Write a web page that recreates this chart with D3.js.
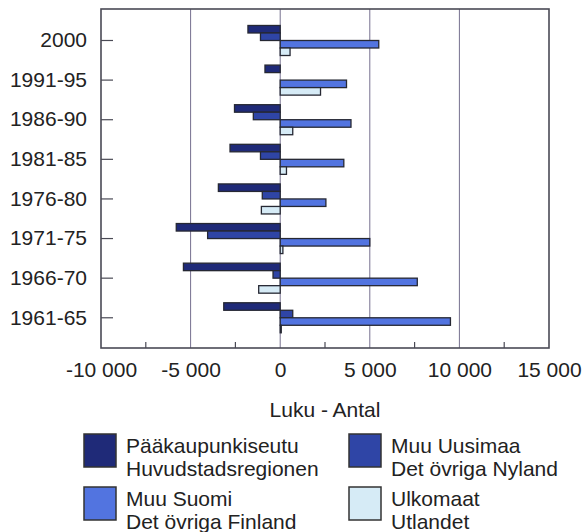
<!DOCTYPE html>
<html><head><meta charset="utf-8">
<script src="https://cdn.jsdelivr.net/npm/d3@7"></script>
<style>
html,body{margin:0;padding:0;background:#fff;}
text{font-family:"Liberation Sans",Arial,sans-serif;fill:#222;}
</style></head>
<body>
<svg id="c" width="585" height="532"></svg>
<script>
const categories = ["2000","1991-95","1986-90","1981-85","1976-80","1971-75","1966-70","1961-65"];
const seriesNames = ["Pääkaupunkiseutu","Muu Uusimaa","Muu Suomi","Ulkomaat"];
const seriesLabels2 = ["Huvudstadsregionen","Det övriga Nyland","Det övriga Finland","Utlandet"];
const paakaupunkiseutu = [-1800, -850, -2550, -2800, -3450, -5800, -5400, -3150];
const muuUusimaa      = [-1100, 0, -1500, -1100, -1000, -4050, -400, 700];
const muuSuomi        = [5500, 3700, 3950, 3550, 2550, 5000, 7650, 9500];
const ulkomaat        = [550, 2250, 700, 350, -1050, 150, -1200, 60];
const xTicks = [-10000, -5000, 0, 5000, 10000, 15000];
const xMinorTicks = [-7500, -2500, 2500, 7500, 12500];
const colors = ["#1f2a78", "#2f45a6", "#5274e0", "#d6ebf6"];

const seriesValues = [paakaupunkiseutu, muuUusimaa, muuSuomi, ulkomaat];

const svg = d3.select("#c");
const L = 101, R = 549, T = 9, B = 348;
const FS = 21;

const x = d3.scaleLinear().domain([-10000, 15000]).range([L, R]);
const y = d3.scaleBand().domain(categories).range([T, B]).paddingInner(0.242).paddingOuter(0.4).align(0.52);
const y1 = d3.scaleBand().domain(seriesNames).range([0, y.bandwidth()]);

const fmt = v => d3.format(",")(v).replace(/,/g, " ").replace(/\u2212/g, "-");

// gridlines
svg.append("g").selectAll("line").data(xTicks.slice(1, -1)).join("line")
  .attr("x1", d => x(d)).attr("x2", d => x(d)).attr("y1", T).attr("y2", B)
  .attr("stroke", "#76708f").attr("stroke-width", 1);

// bars
const groups = svg.append("g").selectAll("g").data(categories).join("g")
  .attr("transform", d => `translate(0,${y(d)})`);
groups.selectAll("rect").data((c, i) => seriesNames.map((s, j) => ({s, j, v: seriesValues[j][i]})))
  .join("rect")
  .filter(d => d.v !== 0)
  .attr("x", d => x(Math.min(0, d.v)))
  .attr("width", d => Math.abs(x(d.v) - x(0)))
  .attr("y", d => y1(d.s))
  .attr("height", y1.bandwidth())
  .attr("fill", d => colors[d.j])
  .attr("stroke", "#262833").attr("stroke-width", 1.3);

// frame
svg.append("rect").attr("x", L).attr("y", T).attr("width", R - L).attr("height", B - T)
  .attr("fill", "none").attr("stroke", "#4a4a55").attr("stroke-width", 1.6);

// bottom axis
const xAxis = d3.axisBottom(x).tickValues(xTicks).tickFormat(fmt).tickSize(0).tickPadding(14);
const gx = svg.append("g").attr("transform", `translate(0,${B})`).call(xAxis);
gx.select(".domain").remove();
gx.selectAll("text").attr("font-size", FS).attr("font-family", "Liberation Sans, Arial, sans-serif").attr("fill", "#222");
svg.append("g").selectAll("line").data(xMinorTicks).join("line")
  .attr("x1", d => x(d)).attr("x2", d => x(d)).attr("y1", B).attr("y2", B - 6)
  .attr("stroke", "#4a4a55").attr("stroke-width", 1.2);

// left axis
const yAxis = d3.axisLeft(y).tickSize(0).tickPadding(14);
const gy = svg.append("g").attr("transform", `translate(${L},0)`).call(yAxis);
gy.select(".domain").remove();
gy.selectAll("text").attr("font-size", FS).attr("font-family", "Liberation Sans, Arial, sans-serif").attr("fill", "#222");
svg.append("g").selectAll("line").data(categories).join("line")
  .attr("x1", L).attr("x2", L + 12)
  .attr("y1", d => y(d) + y.bandwidth() / 2).attr("y2", d => y(d) + y.bandwidth() / 2)
  .attr("stroke", "#4a4a55").attr("stroke-width", 1.2);

// x axis title
svg.append("text").attr("x", (L + R) / 2).attr("y", 417).attr("text-anchor", "middle")
  .attr("font-size", FS).text("Luku - Antal");

// legend
const legPos = [[84, 434], [349, 434], [84, 487], [349, 487]];
seriesNames.forEach((s, i) => {
  const [lx, ly] = legPos[i];
  svg.append("rect").attr("x", lx).attr("y", ly).attr("width", 32).attr("height", 33)
    .attr("fill", colors[i]).attr("stroke", "#333").attr("stroke-width", 1.5);
  svg.append("text").attr("x", lx + 42).attr("y", ly + 19).attr("font-size", FS).text(s);
  svg.append("text").attr("x", lx + 42).attr("y", ly + 42).attr("font-size", FS).text(seriesLabels2[i]);
});
</script>
</body></html>
